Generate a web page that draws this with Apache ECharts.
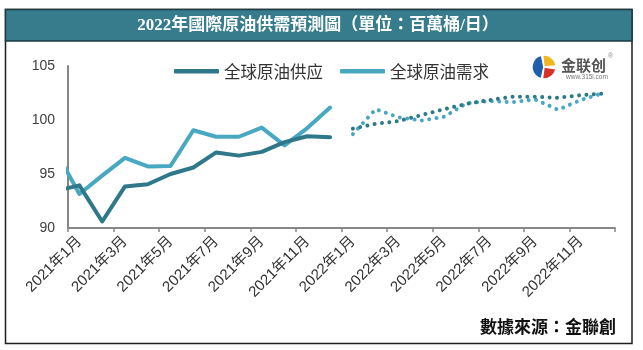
<!DOCTYPE html>
<html>
<head>
<meta charset="utf-8">
<script src="https://cdn.jsdelivr.net/npm/echarts@6/dist/echarts.min.js"></script>
<style>
  html, body { margin: 0; padding: 0; background: #ffffff; }
  #chart { width: 643px; height: 350px; }
</style>
</head>
<body>
<div id="chart"></div>
<script>
// Month labels (category axis)
const months = [
  '2021年1月', '2021年2月', '2021年3月', '2021年4月', '2021年5月', '2021年6月',
  '2021年7月', '2021年8月', '2021年9月', '2021年10月', '2021年11月', '2021年12月',
  '2022年1月', '2022年2月', '2022年3月', '2022年4月', '2022年5月', '2022年6月',
  '2022年7月', '2022年8月', '2022年9月', '2022年10月', '2022年11月', '2022年12月'
];

// Million barrels per day; the prior month keeps the first segment running from the axis
const supplyPrevMonth = 93.45;
const demandPrevMonth = 97.0;
const supply2021 = [93.95, 90.6, 93.85, 94.05, 95.0, 95.6, 97.0, 96.7, 97.05, 97.95, 98.5, 98.4];
const demand2021 = [93.15, 94.85, 96.5, 95.7, 95.75, 99.05, 98.45, 98.45, 99.3, 97.65, 99.25, 101.15];
// Forecast values for 2022
const supply2022 = [99.2, 99.65, 99.9, 100.45, 101.0, 101.5, 101.85, 102.15, 102.15, 102.05, 102.3, 102.45];
const demand2022 = [98.7, 101.0, 100.25, 99.95, 100.3, 101.55, 101.75, 101.65, 101.9, 100.95, 101.85, 102.5];

const yTicks = { min: 90, max: 105, step: 5 };

const SUPPLY_COLOR = '#2e7889';
const DEMAND_COLOR = '#49a8c1';
const CJK = '"Noto Sans CJK SC", "Noto Sans CJK TC", sans-serif';

// Points sit at category centres on the hidden value axis (month index + 0.5)
function toPoints(values, firstIndex) {
  return values.map((v, i) => [firstIndex + i + 0.5, v]);
}

const supplyActual = [[-0.5, supplyPrevMonth]].concat(toPoints(supply2021, 0));
const demandActual = [[-0.5, demandPrevMonth]].concat(toPoints(demand2021, 0));
const supplyForecast = toPoints(supply2022, 12);
const demandForecast = toPoints(demand2022, 12);

const dotted = [0.01, 7.4];

const chart = echarts.init(document.getElementById('chart'), null, { renderer: 'canvas' });

chart.setOption({
  animation: false,
  backgroundColor: '#ffffff',
  grid: { left: 68, right: 28, top: 66, bottom: 122, containLabel: false },
  legend: {
    data: ['全球原油供应', '全球原油需求'],
    left: 169,
    top: 58,
    icon: 'roundRect',
    itemWidth: 45,
    itemHeight: 4.5,
    itemGap: 17,
    textStyle: { fontSize: 16.5, color: '#333333', fontFamily: CJK }
  },
  xAxis: [
    {
      type: 'category',
      data: months,
      boundaryGap: true,
      position: 'bottom',
      axisLine: { show: false },
      axisTick: { show: false },
      splitLine: { show: false },
      axisLabel: {
        interval: 1,
        rotate: 45,
        margin: 11,
        fontSize: 15,
        color: '#333333',
        fontFamily: '"Liberation Sans", ' + CJK
      }
    },
    {
      type: 'value',
      min: 0,
      max: months.length,
      interval: 2,
      position: 'bottom',
      axisLine: { show: true, lineStyle: { color: '#878787', width: 2 } },
      axisTick: { show: true, length: 4, lineStyle: { color: '#878787', width: 1.5 } },
      axisLabel: { show: false },
      splitLine: { show: false }
    }
  ],
  yAxis: {
    type: 'value',
    min: yTicks.min,
    max: yTicks.max,
    interval: yTicks.step,
    axisLine: { show: true, lineStyle: { color: '#878787', width: 2 } },
    axisTick: { show: false },
    splitLine: { show: false },
    axisLabel: {
      fontSize: 14,
      color: '#404040',
      margin: 13,
      fontFamily: '"Liberation Sans", sans-serif'
    }
  },
  series: [
    {
      name: '全球原油供应', type: 'line', xAxisIndex: 1, data: supplyActual,
      symbol: 'none', clip: true, z: 3,
      itemStyle: { color: SUPPLY_COLOR },
      lineStyle: { color: SUPPLY_COLOR, width: 4, join: 'round', cap: 'round' }
    },
    {
      name: '全球原油需求', type: 'line', xAxisIndex: 1, data: demandActual,
      symbol: 'none', clip: true, z: 2,
      itemStyle: { color: DEMAND_COLOR },
      lineStyle: { color: DEMAND_COLOR, width: 4, join: 'round', cap: 'round' }
    },
    {
      name: '全球原油供应', type: 'line', xAxisIndex: 1, data: supplyForecast,
      symbol: 'none', z: 3,
      itemStyle: { color: SUPPLY_COLOR },
      lineStyle: { color: SUPPLY_COLOR, width: 4, type: dotted, cap: 'round' }
    },
    {
      name: '全球原油需求', type: 'line', xAxisIndex: 1, data: demandForecast,
      symbol: 'none', z: 2,
      itemStyle: { color: DEMAND_COLOR },
      lineStyle: { color: DEMAND_COLOR, width: 4, type: dotted, cap: 'round' }
    }
  ],
  graphic: [
    // outer frame
    {
      type: 'rect', z: 0, silent: true,
      shape: { x: 5.5, y: 9.5, width: 626.5, height: 334 },
      style: { fill: 'none', stroke: '#1e1e1e', lineWidth: 1.5 }
    },
    // title bar
    {
      type: 'rect', z: 1, silent: true,
      shape: { x: 5.5, y: 9.5, width: 626.5, height: 31.5 },
      style: { fill: '#367c8c', stroke: '#1e3a42', lineWidth: 1.5 }
    },
    {
      type: 'text', z: 2, silent: true,
      x: 318, y: 26,
      style: {
        text: '2022年國際原油供需預測圖（單位：百萬桶/日）',
        fill: '#ffffff',
        fontSize: 17,
        fontWeight: 'bold',
        fontFamily: '"Liberation Serif", "Noto Sans CJK TC", serif',
        textAlign: 'center',
        textVerticalAlign: 'middle'
      }
    },
    // company logo
    {
      type: 'group', x: 544, y: 67, silent: true,
      children: [
        { type: 'sector', shape: { cx: 0, cy: 0, r: 12, r0: 0, startAngle: 1.8, endAngle: 4.5 },
          style: { fill: '#1f5fae', stroke: '#ffffff', lineWidth: 1.5 } },
        { type: 'sector', shape: { cx: 0, cy: 0, r: 12, r0: 0, startAngle: 4.6, endAngle: 6.2 },
          style: { fill: '#f2b620', stroke: '#ffffff', lineWidth: 1.5 } },
        { type: 'sector', shape: { cx: 0, cy: 0, r: 12, r0: 0, startAngle: 0.15, endAngle: 1.7 },
          style: { fill: '#d8312a', stroke: '#ffffff', lineWidth: 1.5 } }
      ]
    },
    {
      type: 'text', silent: true, x: 561, y: 65,
      style: { text: '金联创', fill: '#555555', fontSize: 15, fontWeight: 'bold',
               fontFamily: CJK, textVerticalAlign: 'middle' }
    },
    {
      type: 'text', silent: true, x: 566, y: 77,
      style: { text: 'www.315i.com', fill: '#777777', fontSize: 6.5,
               fontFamily: '"Liberation Sans", sans-serif', textVerticalAlign: 'middle' }
    },
    {
      type: 'text', silent: true, x: 608, y: 56,
      style: { text: '®', fill: '#888888', fontSize: 7,
               fontFamily: '"Liberation Sans", sans-serif', textVerticalAlign: 'middle' }
    },
    // source note
    {
      type: 'text', silent: true, x: 616, y: 327,
      style: { text: '數據來源：金聯創', fill: '#111111', fontSize: 17, fontWeight: 'bold',
               fontFamily: '"Noto Sans CJK TC", sans-serif', textAlign: 'right', textVerticalAlign: 'middle' }
    }
  ]
});
</script>
</body>
</html>
